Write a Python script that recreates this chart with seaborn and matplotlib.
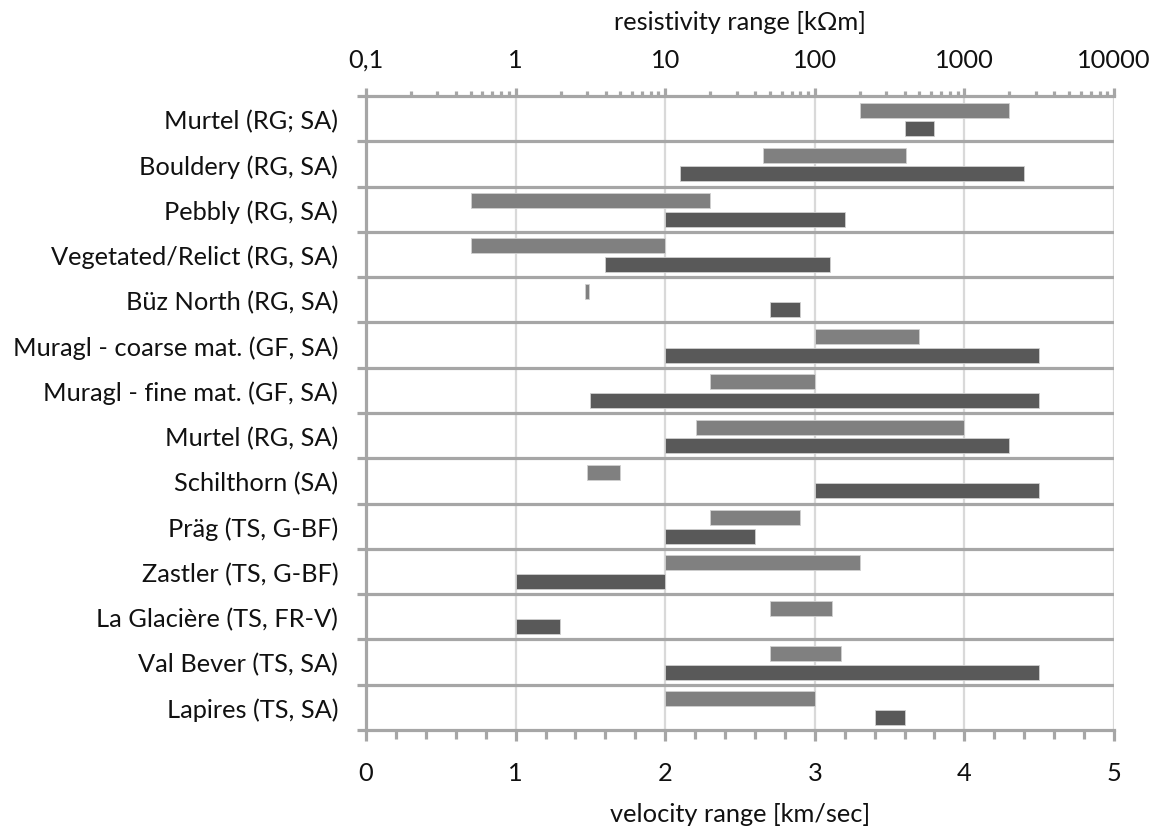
import numpy as np
import pandas as pd
import matplotlib
matplotlib.use("Agg")
import matplotlib.pyplot as plt
import seaborn as sns
from matplotlib.ticker import FixedLocator, NullFormatter

sns.set_theme(style="white")
plt.rcParams['font.family'] = ['Lato', 'DejaVu Sans']

sites = ["Murtel (RG; SA)", "Bouldery (RG, SA)", "Pebbly (RG, SA)",
         "Vegetated/Relict (RG, SA)", "Büz North (RG, SA)",
         "Muragl - coarse mat. (GF, SA)", "Muragl - fine mat. (GF, SA)",
         "Murtel (RG, SA)", "Schilthorn (SA)", "Präg (TS, G-BF)",
         "Zastler (TS, G-BF)", "La Glacière (TS, FR-V)", "Val Bever (TS, SA)",
         "Lapires (TS, SA)"]
res_lo = [200, 45, 0.5, 0.5, 2.9, 100, 20, 16, 3, 20, 10, 50, 50, 10]
res_hi = [2000, 410, 20, 10, 3.1, 500, 100, 1000, 5, 80, 200, 130, 150, 100]
vel_lo = [3.6, 2.1, 2.0, 1.6, 2.7, 2.0, 1.5, 2.0, 3.0, 2.0, 1.0, 1.0, 2.0, 3.4]
vel_hi = [3.8, 4.4, 3.2, 3.1, 2.9, 4.5, 4.5, 4.3, 4.5, 2.6, 2.0, 1.3, 4.5, 3.6]
res_ticks = [0.1, 1, 10, 100, 1000, 10000]
res_ticklabels = ["0,1", "1", "10", "100", "1000", "10000"]
vel_ticks = [0, 1, 2, 3, 4, 5]

LIGHT = "#808080"
DARK = "#595959"
AXC = "#a6a6a6"
GRID = "#d9d9d9"
TXT = "#111111"
FS = 18.3

n = len(sites)
rows = np.arange(n)

fig = plt.figure(figsize=(11.55, 8.28), dpi=100)
ax = fig.add_axes([366/1155, 1-731/828, (1114-366)/1155, (731-97)/828])
ax2 = ax.twiny()
ax2.set_xscale("log")
ax2.set_xlim(0.1, 10000)
ax.set_xlim(0, 5)

# velocity bars (bottom axis)
df_v = pd.DataFrame({"pos": rows + 0.22,
                     "span": np.array(vel_hi) - np.array(vel_lo)})
sns.barplot(data=df_v, x="span", y="pos", orient="y", native_scale=True,
            width=0.33, color=DARK, saturation=1, errorbar=None,
            left=np.array(vel_lo), edgecolor="#d0d0d0", linewidth=0.6,
            ax=ax, zorder=3)

# resistivity bars (top axis, log)
df_r = pd.DataFrame({"pos": rows - 0.19,
                     "span": np.array(res_hi) - np.array(res_lo)})
sns.barplot(data=df_r, x="span", y="pos", orient="y", native_scale=True,
            width=0.33, color=LIGHT, saturation=1, errorbar=None,
            left=np.array(res_lo), edgecolor="#d0d0d0", linewidth=0.6,
            ax=ax2, zorder=3)

ax.set_ylim(n - 0.5, -0.5)
ax2.set_ylim(n - 0.5, -0.5)
ax2.set_xlim(0.1, 10000)
ax.set_xlim(0, 5)

# separators
for b in np.arange(0.5, n - 0.5, 1):
    ax.axhline(b, color=AXC, lw=2.3, zorder=2)

# vertical grid
ax.set_xticks(vel_ticks)
ax.set_xticklabels([str(v) for v in vel_ticks], fontsize=FS, color=TXT)
ax.xaxis.set_minor_locator(FixedLocator(np.arange(0, 5.01, 0.2)))
ax.grid(axis="x", which="major", color=GRID, lw=1.6, zorder=1)
ax.grid(axis="y", visible=False)
ax.set_axisbelow(True)

ax.tick_params(axis="x", which="major", direction="out", length=8, width=2.3,
               color=AXC, pad=14, bottom=True)
ax.tick_params(axis="x", which="minor", direction="out", length=6.5, width=2.3,
               color=AXC, bottom=True)

# y ticks: boundaries as major ticks, labels on minor ticks
ax.yaxis.set_major_locator(FixedLocator(np.arange(-0.5, n, 1)))
ax.yaxis.set_major_formatter(NullFormatter())
ax.yaxis.set_minor_locator(FixedLocator(rows))
ax.set_yticklabels(sites, minor=True, fontsize=FS, color=TXT)
ax.tick_params(axis="y", which="major", direction="out", length=6.5, width=2.3,
               color=AXC, left=True)
ax.tick_params(axis="y", which="minor", length=0, pad=20, left=True)
ax.set_ylabel("")
ax.set_xlabel("")

# top axis
ax2.set_xticks(res_ticks)
ax2.set_xticklabels(res_ticklabels, fontsize=FS, color=TXT)
minor = [m * 10.0**e for e in range(-1, 4) for m in range(2, 10)]
ax2.xaxis.set_minor_locator(FixedLocator(minor))
ax2.xaxis.set_minor_formatter(NullFormatter())
ax2.tick_params(axis="x", which="major", direction="out", length=6, width=2.3,
                color=AXC, pad=12, top=True)
ax2.tick_params(axis="x", which="minor", direction="out", length=3.6, width=2.3,
                color=AXC, top=True)
ax2.set_xlabel("")
ax2.set_ylabel("")
ax2.grid(False)
ax2.tick_params(axis="y", left=False, right=False, labelleft=False, labelright=False)

for a in (ax, ax2):
    for s in a.spines.values():
        s.set_visible(False)
for s in ("left", "bottom"):
    ax.spines[s].set_visible(True)
    ax.spines[s].set_color(AXC)
    ax.spines[s].set_linewidth(2.3)
ax2.spines["top"].set_visible(True)
ax2.spines["top"].set_color(AXC)
ax2.spines["top"].set_linewidth(2.3)

fig.text(740/1155, 1-22/828, "resistivity range [kΩm]", ha="center", va="center",
         fontsize=FS, color=TXT)
fig.text(740/1155, 1-815/828, "velocity range [km/sec]", ha="center", va="center",
         fontsize=FS, color=TXT)

fig.savefig("out.png", dpi=100)
